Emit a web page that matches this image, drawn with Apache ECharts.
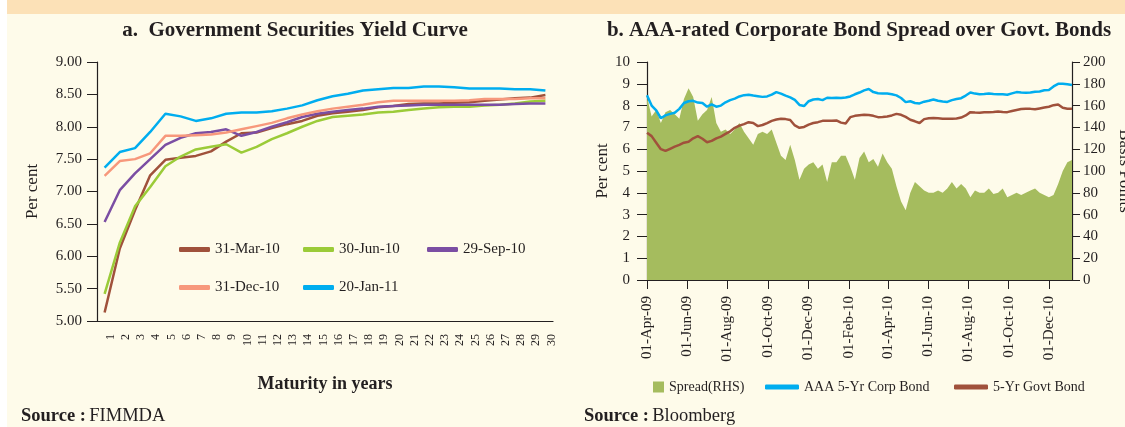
<!DOCTYPE html>
<html>
<head>
<meta charset="utf-8">
<script src="https://cdn.jsdelivr.net/npm/echarts@6/dist/echarts.min.js"></script>
<style>
  html, body { margin: 0; padding: 0; background: #fff; }
  #chart { width: 1125px; height: 427px; }
</style>
</head>
<body>
<div id="chart"></div>
<script>
// ---- a. yield curve data (per cent) ----
const maturities = ['1','2','3','4','5','6','7','8','9','10','11','12','13','14','15',
  '16','17','18','19','20','21','22','23','24','25','26','27','28','29','30'];
const ycMar10 = [5.13, 6.12, 6.71, 7.25, 7.49, 7.52, 7.55, 7.62, 7.77, 7.90, 7.91, 7.98, 8.04, 8.09, 8.17,
  8.21, 8.23, 8.26, 8.30, 8.32, 8.35, 8.36, 8.36, 8.37, 8.38, 8.40, 8.42, 8.44, 8.45, 8.49];
const ycJun10 = [5.42, 6.21, 6.77, 7.07, 7.39, 7.54, 7.65, 7.69, 7.73, 7.60, 7.69, 7.81, 7.90, 8.00, 8.09,
  8.15, 8.17, 8.19, 8.22, 8.23, 8.26, 8.28, 8.30, 8.31, 8.31, 8.33, 8.34, 8.36, 8.39, 8.40];
const ycSep10 = [6.53, 7.02, 7.28, 7.50, 7.72, 7.83, 7.90, 7.92, 7.96, 7.86, 7.92, 8.00, 8.07, 8.15, 8.20,
  8.23, 8.26, 8.28, 8.31, 8.32, 8.33, 8.34, 8.34, 8.34, 8.34, 8.34, 8.34, 8.35, 8.36, 8.36];
const ycDec10 = [7.24, 7.47, 7.50, 7.59, 7.86, 7.86, 7.87, 7.88, 7.91, 7.96, 8.01, 8.06, 8.13, 8.19, 8.24,
  8.28, 8.31, 8.34, 8.38, 8.40, 8.40, 8.40, 8.40, 8.40, 8.41, 8.43, 8.43, 8.43, 8.44, 8.44];
const ycJan11 = [7.37, 7.61, 7.67, 7.92, 8.20, 8.16, 8.09, 8.13, 8.20, 8.22, 8.22, 8.24, 8.28, 8.33, 8.41,
  8.47, 8.51, 8.56, 8.58, 8.60, 8.60, 8.62, 8.62, 8.61, 8.59, 8.59, 8.59, 8.58, 8.58, 8.56];

// ---- b. corporate bond spread data (weekly readings) ----
const bondDates = [
  '2009-04-01','2009-04-08','2009-04-15','2009-04-22','2009-04-29',
  '2009-05-06','2009-05-13','2009-05-20','2009-05-27',
  '2009-06-03','2009-06-10','2009-06-17','2009-06-24',
  '2009-07-01','2009-07-08','2009-07-15','2009-07-22','2009-07-29',
  '2009-08-05','2009-08-12','2009-08-19','2009-08-26',
  '2009-09-02','2009-09-09','2009-09-16','2009-09-23','2009-09-30',
  '2009-10-07','2009-10-14','2009-10-21','2009-10-28',
  '2009-11-04','2009-11-11','2009-11-18','2009-11-25',
  '2009-12-02','2009-12-09','2009-12-16','2009-12-23','2009-12-30',
  '2010-01-06','2010-01-13','2010-01-20','2010-01-27',
  '2010-02-03','2010-02-10','2010-02-17','2010-02-24',
  '2010-03-03','2010-03-10','2010-03-17','2010-03-24','2010-03-31',
  '2010-04-07','2010-04-14','2010-04-21','2010-04-28',
  '2010-05-05','2010-05-12','2010-05-19','2010-05-26',
  '2010-06-02','2010-06-09','2010-06-16','2010-06-23','2010-06-30',
  '2010-07-07','2010-07-14','2010-07-21','2010-07-28',
  '2010-08-04','2010-08-11','2010-08-18','2010-08-25',
  '2010-09-01','2010-09-08','2010-09-15','2010-09-22','2010-09-29',
  '2010-10-06','2010-10-13','2010-10-20','2010-10-27',
  '2010-11-03','2010-11-10','2010-11-17','2010-11-24',
  '2010-12-01','2010-12-08','2010-12-15','2010-12-22','2010-12-29',
  '2011-01-05'
];
// AAA 5-Yr Corp Bond, per cent
const corpBond = [
  8.47, 8.00, 7.78, 7.42, 7.55, 7.62, 7.67, 7.85, 8.12, 8.20,
  8.22, 8.14, 8.12, 7.95, 8.06, 7.95, 8.00, 8.15, 8.25, 8.32,
  8.42, 8.48, 8.50, 8.46, 8.43, 8.40, 8.42, 8.50, 8.62, 8.55,
  8.46, 8.38, 8.26, 8.03, 7.98, 8.20, 8.28, 8.30, 8.25, 8.36,
  8.35, 8.36, 8.35, 8.37, 8.42, 8.52, 8.60, 8.70, 8.76, 8.62,
  8.57, 8.55, 8.55, 8.52, 8.47, 8.35, 8.16, 8.20, 8.12, 8.10,
  8.18, 8.22, 8.28, 8.22, 8.19, 8.17, 8.25, 8.30, 8.34, 8.46,
  8.60, 8.55, 8.52, 8.53, 8.55, 8.53, 8.52, 8.52, 8.50, 8.56,
  8.62, 8.60, 8.59, 8.60, 8.64, 8.65, 8.70, 8.72, 8.88, 9.00,
  9.00, 8.98, 8.95
];
// 5-Yr Govt Bond, per cent
const govtBond = [
  6.75, 6.60, 6.30, 6.00, 5.92, 6.02, 6.12, 6.20, 6.30, 6.34,
  6.50, 6.60, 6.48, 6.32, 6.38, 6.50, 6.58, 6.70, 6.82, 6.98,
  7.08, 7.15, 7.24, 7.20, 7.06, 7.11, 7.20, 7.30, 7.36, 7.40,
  7.38, 7.34, 7.09, 6.98, 7.02, 7.13, 7.20, 7.24, 7.30, 7.30,
  7.30, 7.32, 7.22, 7.18, 7.47, 7.53, 7.56, 7.58, 7.57, 7.53,
  7.47, 7.48, 7.50, 7.55, 7.62, 7.58, 7.48, 7.35, 7.28, 7.20,
  7.38, 7.42, 7.43, 7.42, 7.40, 7.40, 7.40, 7.41, 7.45, 7.55,
  7.70, 7.68, 7.67, 7.69, 7.70, 7.71, 7.73, 7.71, 7.70, 7.75,
  7.80, 7.84, 7.86, 7.85, 7.83, 7.87, 7.91, 7.95, 8.02, 8.05,
  7.90, 7.86, 7.85
];
// Spread, basis points (RHS)
const spreadBps = [
  168, 150, 156, 144, 154, 156, 152, 148, 166, 176,
  168, 146, 152, 156, 168, 144, 136, 138, 134, 138,
  144, 136, 130, 124, 134, 136, 134, 138, 126, 114,
  110, 124, 110, 92, 102, 106, 108, 102, 106, 90,
  108, 108, 114, 114, 104, 92, 112, 118, 108, 111,
  104, 116, 108, 102, 86, 72, 64, 80, 90, 86,
  82, 80, 80, 82, 80, 84, 90, 84, 88, 84,
  76, 82, 80, 80, 84, 79, 80, 84, 76, 78,
  80, 78, 80, 82, 84, 80, 78, 76, 78, 88,
  100, 108, 110
];
const bondTicks = ['2009-04-01','2009-06-01','2009-08-01','2009-10-01','2009-12-01','2010-02-01',
  '2010-04-01','2010-06-01','2010-08-01','2010-10-01','2010-12-01'];
const monthNames = ['Jan','Feb','Mar','Apr','May','Jun','Jul','Aug','Sep','Oct','Nov','Dec'];

const serif = '"Liberation Serif", "Times New Roman", serif';
const ink = '#231f20';

function toTime(s) { return new Date(s + 'T00:00:00').getTime(); }
function dateLabel(v) {
  const d = new Date(v);
  return String(d.getDate()).padStart(2, '0') + '-' + monthNames[d.getMonth()] + '-' + String(d.getFullYear()).slice(2);
}
const tickTimes = bondTicks.map(toTime);

const myChart = echarts.init(document.getElementById('chart'));

const axisText = { fontFamily: serif, color: ink, fontSize: 15 };
const nameText = { fontFamily: serif, color: ink, fontSize: 17 };

function curve(name, data, color) {
  return { name, type: 'line', xAxisIndex: 0, yAxisIndex: 0, data, symbol: 'none',
    color, lineStyle: { color, width: 2.5 } };
}
// x is a timestamp on a value axis so the tick dates can be placed exactly
function pairs(vals) { return bondDates.map((d, i) => [toTime(d), vals[i]]); }

// one legend per entry so every item sits where the reference puts it
function legendItem(name, left, top, extra) {
  return Object.assign({
    data: [name], left, top, padding: 0, selectedMode: false,
    icon: 'roundRect', itemWidth: 31, itemHeight: 5,
    textStyle: { fontFamily: serif, color: ink, fontSize: 15 }
  }, extra || {});
}
const smallLegend = { itemWidth: 34, textStyle: { fontFamily: serif, color: ink, fontSize: 14 } };

const option = {
  backgroundColor: '#fefbea',
  animation: false,
  graphic: [
    { type: 'rect', shape: { x: 0, y: 0, width: 7, height: 427 }, style: { fill: '#ffffff' }, z: -5 },
    { type: 'rect', shape: { x: 7, y: 0, width: 1118, height: 14 }, style: { fill: '#fce1b7' }, z: -5 },
    { type: 'text', x: 295, y: 31, style: { text: 'a.  Government Securities Yield Curve', align: 'center', verticalAlign: 'middle',
        font: 'bold 21px ' + serif, fill: ink } },
    { type: 'text', x: 859, y: 31, style: { text: 'b. AAA-rated Corporate Bond Spread over Govt. Bonds', align: 'center', verticalAlign: 'middle',
        font: 'bold 21px ' + serif, fill: ink } },
    { type: 'text', x: 21, y: 416, style: { text: '{b|Source :} {r|FIMMDA}', verticalAlign: 'middle',
        rich: { b: { fontFamily: serif, fontSize: 18.5, fontWeight: 'bold', fill: ink }, r: { fontFamily: serif, fontSize: 18.5, fill: ink } } } },
    { type: 'text', x: 584, y: 416, style: { text: '{b|Source :} {r|Bloomberg}', verticalAlign: 'middle',
        rich: { b: { fontFamily: serif, fontSize: 18.5, fontWeight: 'bold', fill: ink }, r: { fontFamily: serif, fontSize: 18.5, fill: ink } } } }
  ],
  grid: [
    { left: 97, top: 62, width: 456, height: 259, outerBoundsMode: 'none' },
    { left: 647, top: 62, width: 425, height: 218, outerBoundsMode: 'none' }
  ],
  legend: [
    legendItem('31-Mar-10', 179, 242),
    legendItem('30-Jun-10', 303, 242),
    legendItem('29-Sep-10', 427, 242),
    legendItem('31-Dec-10', 179, 280),
    legendItem('20-Jan-11', 303, 280),
    legendItem('Spread(RHS)', 653, 380, { icon: 'rect', itemWidth: 11, itemHeight: 11,
      textStyle: { fontFamily: serif, color: ink, fontSize: 14 } }),
    legendItem('AAA 5-Yr Corp Bond', 765, 380, smallLegend),
    legendItem('5-Yr Govt Bond', 954, 380, smallLegend)
  ],
  xAxis: [
    {
      gridIndex: 0, type: 'category', data: maturities, boundaryGap: true,
      axisLine: { lineStyle: { color: ink, width: 1.2 } },
      axisTick: { interval: 0, length: 5, lineStyle: { color: ink } },
      axisLabel: { interval: 0, rotate: 90, fontSize: 12, fontFamily: serif, color: ink, margin: 13, verticalAlign: 'top' },
      splitLine: { show: false },
      name: 'Maturity in years', nameLocation: 'middle', nameGap: 54,
      nameTextStyle: { fontFamily: serif, color: ink, fontSize: 18, fontWeight: 'bold' }
    },
    {
      gridIndex: 1, type: 'value', min: toTime('2009-04-01'), max: toTime('2011-01-05'),
      axisLine: { lineStyle: { color: ink, width: 1.2 } },
      axisTick: { customValues: tickTimes, length: 9, lineStyle: { color: ink } },
      axisLabel: Object.assign({ customValues: tickTimes, rotate: 90, margin: 16, formatter: dateLabel }, axisText),
      splitLine: { show: false }, minorTick: { show: false }
    }
  ],
  yAxis: [
    {
      gridIndex: 0, type: 'value', min: 5, max: 9, interval: 0.5,
      axisLine: { show: true, lineStyle: { color: ink, width: 1.2 } },
      axisTick: { show: true, length: 10, lineStyle: { color: ink } },
      axisLabel: Object.assign({ margin: 15, formatter: v => v.toFixed(2) }, axisText),
      splitLine: { show: false },
      name: 'Per cent', nameLocation: 'middle', nameGap: 56, nameTextStyle: nameText
    },
    {
      gridIndex: 1, type: 'value', min: 0, max: 10, interval: 1,
      axisLine: { show: true, lineStyle: { color: ink, width: 1.2 } },
      axisTick: { show: true, length: 10, lineStyle: { color: ink } },
      axisLabel: Object.assign({ margin: 17 }, axisText),
      splitLine: { show: false },
      name: 'Per cent', nameLocation: 'middle', nameGap: 36, nameTextStyle: nameText
    },
    {
      gridIndex: 1, type: 'value', position: 'right', min: 0, max: 200, interval: 20,
      axisLine: { show: true, lineStyle: { color: ink, width: 1.2 } },
      axisTick: { show: true, length: 8, lineStyle: { color: ink } },
      axisLabel: Object.assign({ margin: 11 }, axisText),
      splitLine: { show: false },
      name: 'Basis Points', nameLocation: 'middle', nameRotate: -90, nameGap: 44, nameTextStyle: nameText
    }
  ],
  series: [
    curve('31-Mar-10', ycMar10, '#a0513b'),
    curve('30-Jun-10', ycJun10, '#9bcb38'),
    curve('29-Sep-10', ycSep10, '#7b4ea3'),
    curve('31-Dec-10', ycDec10, '#f7987c'),
    curve('20-Jan-11', ycJan11, '#00adef'),
    {
      name: 'Spread(RHS)', type: 'line', xAxisIndex: 1, yAxisIndex: 2, data: pairs(spreadBps),
      symbol: 'none', color: '#a5bc5e', itemStyle: { color: '#a5bc5e' },
      lineStyle: { width: 0 }, areaStyle: { color: '#a5bc5e', opacity: 1 }
    },
    {
      name: 'AAA 5-Yr Corp Bond', type: 'line', xAxisIndex: 1, yAxisIndex: 1, data: pairs(corpBond),
      symbol: 'none', color: '#00adef', lineStyle: { color: '#00adef', width: 2.5 }
    },
    {
      name: '5-Yr Govt Bond', type: 'line', xAxisIndex: 1, yAxisIndex: 1, data: pairs(govtBond),
      symbol: 'none', color: '#a0513b', lineStyle: { color: '#a0513b', width: 2.5 }
    }
  ]
};

myChart.setOption(option);
</script>
</body>
</html>
